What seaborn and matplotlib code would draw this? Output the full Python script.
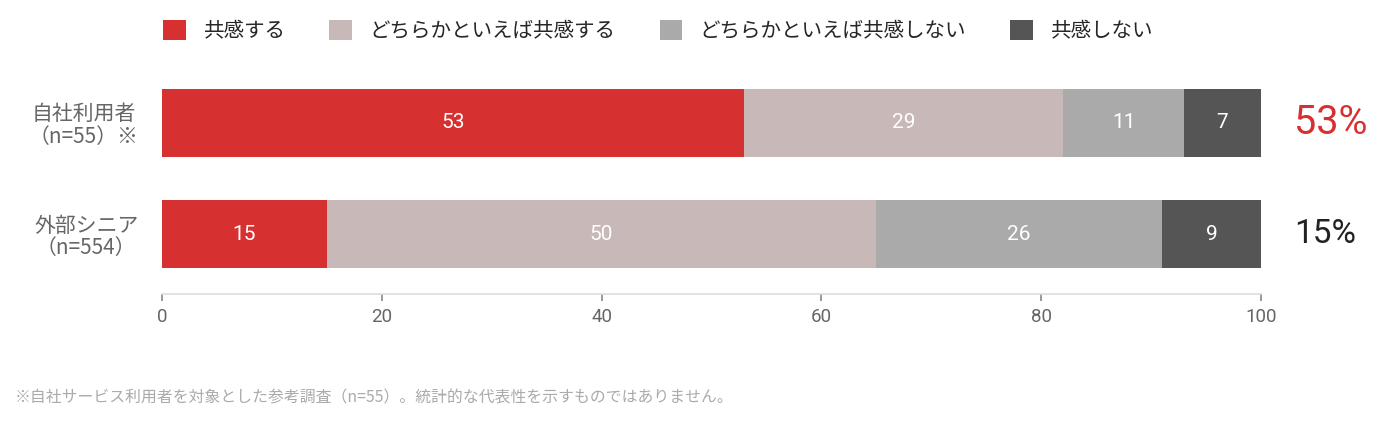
import numpy as np
import pandas as pd
import matplotlib
matplotlib.use("Agg")
import matplotlib.pyplot as plt
from matplotlib.patches import Patch
import seaborn as sns

groups = ["自社利用者\n（n=55）※", "外部シニア\n（n=554）"]
answers = ["共感する", "どちらかといえば共感する", "どちらかといえば共感しない", "共感しない"]
own_users = [53, 29, 11, 7]
ext_seniors = [15, 50, 26, 9]
agree_pct = ["53%", "15%"]
colors = ["#d63031", "#c8b8b7", "#aaaaaa", "#555555"]
pct_colors = ["#d63031", "#222222"]
footnote = "※自社サービス利用者を対象とした参考調査（n=55）。統計的な代表性を示すものではありません。"

sns.set_style("white")
plt.rcParams["font.family"] = ["Noto Sans CJK JP", "DejaVu Sans"]
num_font = ["Roboto", "DejaVu Sans"]

table = pd.DataFrame([own_users, ext_seniors], index=groups, columns=answers)
cum = table.cumsum(axis=1)

fig = plt.figure(figsize=(13.87, 4.23), dpi=100)
ax = fig.add_axes([162 / 1387, 1 - 294 / 423, (1261 - 162) / 1387, (294 - 63) / 423])

# stacked bars: draw cumulative totals from the widest to the narrowest
for ans, col in reversed(list(zip(answers, colors))):
    d = pd.DataFrame({"group": groups, "value": cum[ans].values})
    sns.barplot(data=d, x="value", y="group", order=groups, color=col,
                width=0.613, saturation=1, ax=ax, linewidth=0)

for i, g in enumerate(groups):
    left = 0
    for ans in answers:
        v = table.loc[g, ans]
        ax.text(left + v / 2, i, str(v), ha="center", va="center",
                color="white", fontsize=15, family=num_font)
        left += v
    ax.text(103.0, i, agree_pct[i], ha="left", va="center", family=num_font,
            color=pct_colors[i], fontsize=28.5 if i == 0 else 24, clip_on=False)

ax.set_xlim(0, 100)
ax.set_ylim(1.54, -0.54)
ax.set_xticks([0, 20, 40, 60, 80, 100])
ax.set_xlabel("")
ax.set_ylabel("")
for s in ["top", "right", "left"]:
    ax.spines[s].set_visible(False)
ax.spines["bottom"].set_color("#dddddd")
ax.spines["bottom"].set_linewidth(1.2)
ax.tick_params(axis="x", colors="#888888", labelcolor="#666666", length=5,
               width=1.2, pad=5, labelsize=13.5, bottom=True)
for lab in ax.get_xticklabels():
    lab.set_family(num_font)
ax.tick_params(axis="y", length=0, pad=17, labelcolor="#666666", labelsize=15)
for lab in ax.get_yticklabels():
    lab.set_multialignment("center")
    lab.set_linespacing(1.05)

handles = [Patch(facecolor=c, edgecolor="none") for c in colors]
fig.legend(handles, answers, loc="center left",
           bbox_to_anchor=(163 / 1387, 1 - 31 / 423), ncol=4, frameon=False,
           fontsize=14.8, handlelength=1.1, handleheight=1.1,
           handletextpad=0.85, columnspacing=2.15, borderpad=0, borderaxespad=0)

fig.text(15 / 1387, 1 - 398 / 423, footnote, ha="left", va="center",
         color="#aaaaaa", fontsize=11.4)

fig.savefig("out.png", dpi=100)
